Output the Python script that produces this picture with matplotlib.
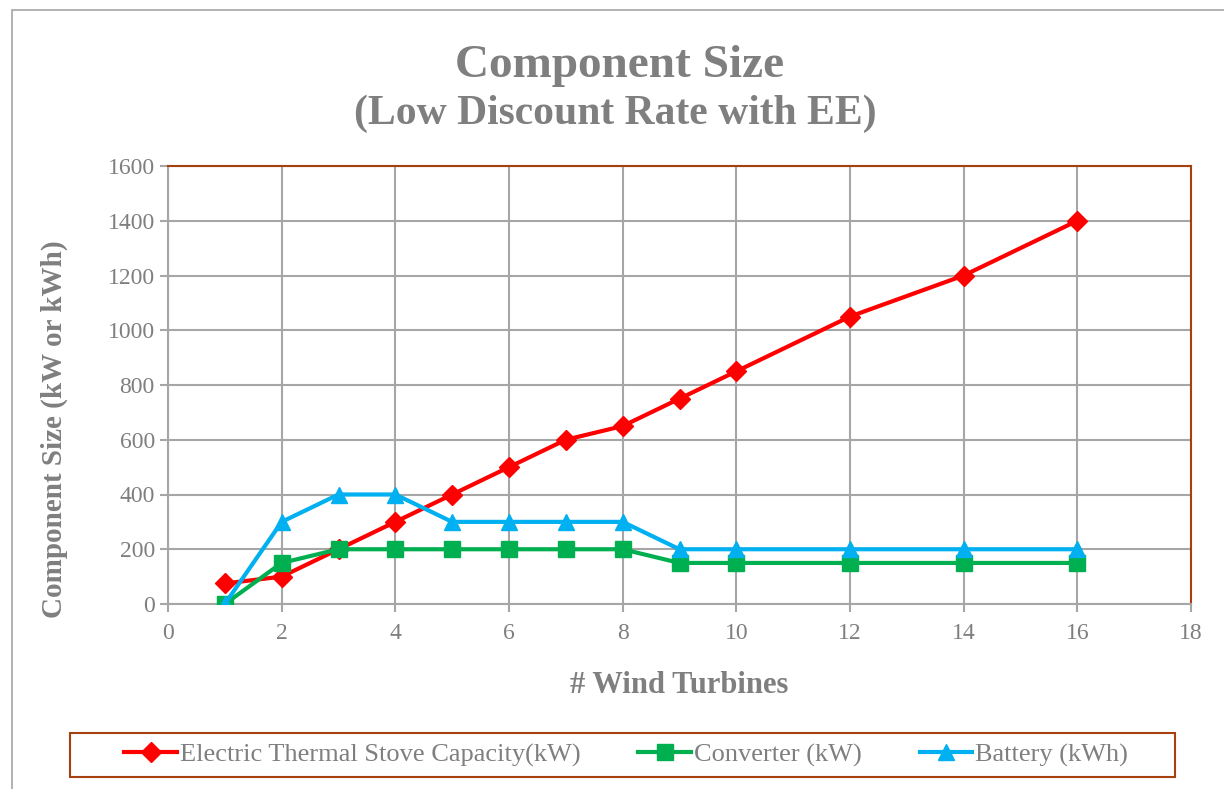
import matplotlib
matplotlib.use("Agg")
import matplotlib.pyplot as plt
from matplotlib.patches import Rectangle

turbines = [1, 2, 3, 4, 5, 6, 7, 8, 9, 10, 12, 14, 16]
stove_kw = [75, 100, 200, 300, 400, 500, 600, 650, 750, 850, 1050, 1200, 1400]
converter_kw = [0, 150, 200, 200, 200, 200, 200, 200, 150, 150, 150, 150, 150]
battery_kwh = [0, 300, 400, 400, 300, 300, 300, 300, 200, 200, 200, 200, 200]

GREY = "#7F7F7F"
BROWN = "#A5400F"
SERIF = ["Liberation Serif", "DejaVu Serif"]

fig = plt.figure(figsize=(12.24, 7.89), dpi=100)
ax = fig.add_axes([168 / 1224, 1 - 604 / 789, (1191 - 168) / 1224, (604 - 166) / 789])

ax.plot(turbines, stove_kw, color="#FF0000", lw=3, marker="D", ms=10,
        label="Electric Thermal Stove Capacity(kW)", zorder=3)
ax.plot(turbines, converter_kw, color="#00B050", lw=3, marker="s", ms=11,
        label="Converter (kW)", zorder=4)
ax.plot(turbines, battery_kwh, color="#00B0F0", lw=3, marker="^", ms=12,
        label="Battery (kWh)", zorder=5)

ax.set_xlim(0, 18)
ax.set_ylim(0, 1600)
ax.set_xticks(range(0, 19, 2))
ax.set_yticks(range(0, 1601, 200))
ax.grid(True, color="#A6A6A6", lw=1.5)
ax.set_axisbelow(True)

for side in ("top", "right"):
    ax.spines[side].set_color(BROWN)
    ax.spines[side].set_linewidth(1.5)
for side in ("left", "bottom"):
    ax.spines[side].set_color("#A6A6A6")
    ax.spines[side].set_linewidth(1.5)
ax.tick_params(colors="#A6A6A6", labelcolor=GREY, length=6, width=1.5, labelsize=17)
for lab in ax.get_xticklabels() + ax.get_yticklabels():
    lab.set_family(SERIF)
ax.tick_params(axis="x", pad=8)

ax.set_xlabel("# Wind Turbines", family=SERIF, fontsize=22, fontweight="bold",
              color=GREY)
ax.set_ylabel("Component Size (kW or kWh)", family=SERIF, fontsize=21,
              fontweight="bold", color=GREY)
ax.xaxis.set_label_coords(0.5, -0.152)
ax.yaxis.set_label_coords(-0.098, 0.40)

fig.text(0.506, 1 - 77 / 789, "Component Size", family=SERIF, fontsize=34,
         fontweight="bold", color=GREY, ha="center", va="baseline")
fig.text(0.503, 1 - 124 / 789, "(Low Discount Rate with EE)", family=SERIF,
         fontsize=30, fontweight="bold", color=GREY, ha="center", va="baseline")

# outer chart border and legend box
fig.patches.append(Rectangle((12 / 1224, -0.01), 1.0, 1 - 10 / 789 + 0.01,
                             transform=fig.transFigure, fill=False,
                             edgecolor="#A6A6A6", lw=1.2))
fig.patches.append(Rectangle((70 / 1224, 1 - 777 / 789), (1175 - 70) / 1224,
                             (777 - 733) / 789, transform=fig.transFigure,
                             fill=False, edgecolor=BROWN, lw=1.5))

leg = fig.legend(loc="center", bbox_to_anchor=(626 / 1224, 1 - 755 / 789), ncol=3,
                 frameon=False, prop={"family": SERIF, "size": 19},
                 handlelength=2.0, handletextpad=0.1, columnspacing=2.2)
for t in leg.get_texts():
    t.set_color(GREY)

fig.savefig("out.png", dpi=100)
